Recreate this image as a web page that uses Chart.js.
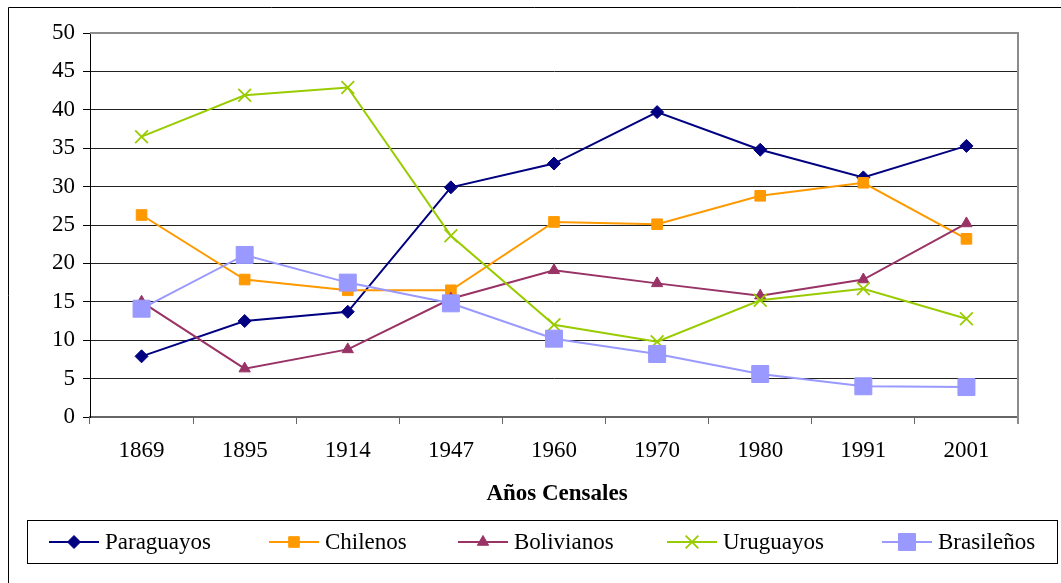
<!DOCTYPE html>
<html>
<head>
<meta charset="utf-8">
<script src="https://cdn.jsdelivr.net/npm/chart.js@4/dist/chart.umd.min.js"></script>
<style>
  html, body { margin: 0; padding: 0; background: #fff; overflow: hidden; }
  #wrap { position: relative; width: 1061px; height: 583px; }
</style>
</head>
<body>
<div id="wrap"><canvas id="chart" width="1061" height="583"></canvas></div>
<script>
'use strict';

// categories + series (percent)
const years      = ['1869', '1895', '1914', '1947', '1960', '1970', '1980', '1991', '2001'];
const paraguayos = [7.9, 12.5, 13.7, 29.9, 33.0, 39.7, 34.8, 31.2, 35.3];
const chilenos   = [26.3, 17.9, 16.5, 16.5, 25.4, 25.1, 28.8, 30.5, 23.2];
const bolivianos = [15.0, 6.3, 8.8, 15.4, 19.1, 17.4, 15.8, 17.9, 25.2];
const uruguayos  = [36.5, 41.9, 42.9, 23.6, 12.0, 9.8, 15.2, 16.7, 12.8];
const brasilenos = [14.1, 21.1, 17.5, 14.8, 10.2, 8.2, 5.6, 4.0, 3.9];
const yTicks     = [0, 5, 10, 15, 20, 25, 30, 35, 40, 45, 50];
const axisTitle  = 'Años Censales';

const FONT = '"Liberation Serif", "Times New Roman", serif';

function series(label, data, color, style, radius, order) {
  return {
    label, data, order,
    borderColor: color, backgroundColor: color,
    borderWidth: 2, tension: 0,
    pointStyle: style, pointRadius: radius, pointHoverRadius: radius,
    pointBorderColor: color, pointBackgroundColor: color,
    pointBorderWidth: style === 'crossRot' ? 1.8 : 1,
  };
}

const datasets = [
  series('Paraguayos', paraguayos, '#000080', 'rectRot', 6.5, 5),
  series('Chilenos',   chilenos,   '#FF9900', 'rect',    7.5, 4),
  series('Bolivianos', bolivianos, '#993366', 'triangle', 6.5, 3),
  series('Uruguayos',  uruguayos,  '#99CC00', 'crossRot', 9,  2),
  series('Brasileños', brasilenos, '#9999FF', 'rect',    12,  1),
];

// frame, plot border, axis title and the boxed legend at the bottom
const decor = {
  id: 'decor',
  beforeDraw(chart) {
    const { ctx, width, height } = chart;
    ctx.save();
    ctx.fillStyle = '#fff';
    ctx.fillRect(0, 0, width, height);
    ctx.strokeStyle = '#000';
    ctx.lineWidth = 1;
    ctx.beginPath();
    ctx.moveTo(8.5, height); ctx.lineTo(8.5, 7.5); ctx.lineTo(width, 7.5);
    ctx.stroke();
    ctx.restore();
  },
  afterDraw(chart) {
    const { ctx, chartArea: a } = chart;
    ctx.save();
    // right + top border of plot area
    ctx.strokeStyle = '#8c8c8c';
    ctx.lineWidth = 2;
    ctx.beginPath();
    ctx.moveTo(a.left, a.top); ctx.lineTo(a.right, a.top); ctx.lineTo(a.right, a.bottom + 7);
    ctx.stroke();

    // axis title
    ctx.fillStyle = '#000';
    ctx.font = 'bold 23px ' + FONT;
    ctx.textAlign = 'center';
    ctx.textBaseline = 'middle';
    ctx.fillText(axisTitle, (a.left + a.right) / 2 + 3, 494);

    // legend box
    ctx.strokeStyle = '#000';
    ctx.lineWidth = 1;
    ctx.strokeRect(27.5, 520.5, 1030, 43);
    const starts = [49, 269, 458, 667, 882];
    const cy = 542;
    ctx.font = '23px ' + FONT;
    ctx.textAlign = 'left';
    chart.data.datasets.forEach((ds, i) => {
      const x0 = starts[i];
      ctx.strokeStyle = ds.borderColor;
      ctx.fillStyle = ds.borderColor;
      ctx.lineWidth = 2;
      ctx.beginPath();
      ctx.moveTo(x0, cy); ctx.lineTo(x0 + 50, cy);
      ctx.stroke();
      ctx.lineWidth = ds.pointBorderWidth;
      Chart.helpers.drawPoint(ctx, {
        pointStyle: ds.pointStyle, radius: ds.pointRadius, rotation: 0, borderWidth: ds.pointBorderWidth,
      }, x0 + 25, cy);
      ctx.fillStyle = '#000';
      ctx.fillText(ds.label, x0 + 56, cy + 1);
    });
    ctx.restore();
  }
};

new Chart(document.getElementById('chart'), {
  type: 'line',
  data: { labels: years, datasets },
  options: {
    responsive: false,
    animation: false,
    events: [],
    layout: { padding: { left: 0, top: 33, right: 43, bottom: 0 } },
    plugins: { legend: { display: false }, tooltip: { enabled: false } },
    scales: {
      x: {
        offset: true,
        afterFit: s => { s.height = 166; },
        grid: { offset: true, drawOnChartArea: false, tickLength: 7, color: '#666' },
        border: { color: '#666', width: 2 },
        ticks: { color: '#000', padding: 13, font: { family: FONT, size: 23 } },
      },
      y: {
        min: 0, max: 50,
        afterFit: s => { s.width = 90; },
        afterBuildTicks: s => { s.ticks = yTicks.map(v => ({ value: v })); },
        grid: { color: '#222', lineWidth: 1, tickLength: 7, tickColor: '#000' },
        border: { color: '#000', width: 1 },
        ticks: { color: '#000', padding: 8, font: { family: FONT, size: 23 } },
      }
    }
  },
  plugins: [decor]
});
</script>
</body>
</html>
